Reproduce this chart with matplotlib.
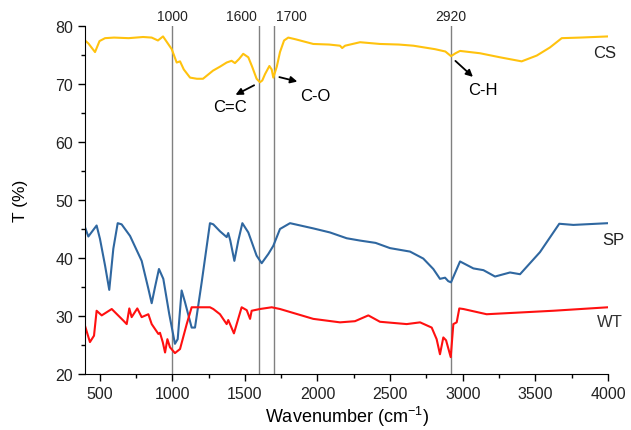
import numpy as np
import matplotlib
matplotlib.use('Agg')
import matplotlib.pyplot as plt
from matplotlib.ticker import MultipleLocator

plt.rcParams['font.family'] = ['Liberation Sans', 'DejaVu Sans']
plt.rcParams['mathtext.default'] = 'regular'

# CS spectrum (yellow)
cs_wn = [400, 423, 469, 500, 538, 600, 700, 800, 859, 902, 937, 997, 1031, 1054, 1080, 1123, 1170, 1212,
         1281, 1330, 1375, 1409, 1432, 1460, 1489, 1524, 1550, 1581, 1604, 1620, 1639, 1669, 1685, 1696, 1720, 1742,
         1770, 1799, 1850, 1971, 2080, 2155, 2170, 2190, 2293, 2430, 2560, 2660, 2809, 2880, 2919, 2950, 2981,
         3118, 3256, 3405, 3509, 3600, 3681, 3807, 4000]
cs_t = [77.5, 77.0, 75.5, 77.4, 77.9, 78.0, 77.9, 78.1, 78.0, 77.5, 78.2, 76.0, 73.7, 73.9, 72.5, 71.1, 70.9, 70.9,
        72.3, 73.0, 73.7, 74.0, 73.6, 74.3, 75.2, 74.6, 73.0, 70.9, 70.3, 70.6, 71.7, 73.1, 72.5, 71.1, 73.0, 75.5,
        77.5, 78.0, 77.7, 76.9, 76.8, 76.6, 76.2, 76.6, 77.2, 76.9, 76.8, 76.6, 76.0, 75.6, 74.8, 75.3, 75.7,
        75.3, 74.6, 73.9, 74.9, 76.3, 77.9, 78.0, 78.2]

# SP spectrum (blue)
sp_wn = [400, 423, 450, 480, 503, 538, 567, 595, 625, 652, 710, 790, 836, 859, 882, 909, 939, 980, 1019, 1038,
         1065, 1088, 1134, 1157, 1203, 1260, 1283, 1329, 1375, 1386, 1400, 1428, 1455, 1483, 1524, 1581, 1616,
         1662, 1696, 1742, 1811, 1971, 2086, 2201, 2293, 2400, 2499, 2637, 2728, 2797, 2843, 2878, 2900, 2919,
         2981, 3073, 3142, 3222, 3325, 3394, 3531, 3664, 3761, 4000]
sp_t = [45.3, 43.7, 44.6, 45.6, 43.3, 38.7, 34.5, 41.6, 46.0, 45.8, 43.8, 39.5, 34.7, 32.2, 35.0, 38.1, 36.4, 30.3,
        25.2, 26.0, 34.4, 32.4, 28.0, 28.0, 35.8, 46.0, 45.8, 44.6, 43.6, 44.3, 43.0, 39.5, 43.0, 46.0, 44.4, 40.4,
        39.1, 40.7, 42.1, 45.0, 46.0, 45.1, 44.4, 43.4, 43.0, 42.6, 41.7, 41.1, 39.9, 38.1, 36.4, 36.6, 36.0, 35.8,
        39.4, 38.2, 37.9, 36.8, 37.5, 37.2, 41.0, 45.9, 45.7, 46.0]

# WT spectrum (red)
wt_wn = [400, 434, 462, 480, 515, 584, 664, 687, 705, 721, 760, 790, 836, 859, 905, 916, 935, 951, 967, 985,
         1019, 1054, 1100, 1134, 1260, 1283, 1329, 1375, 1386, 1425, 1478, 1513, 1536, 1547, 1604, 1685, 1742,
         1971, 2155, 2258, 2350, 2430, 2614, 2706, 2786, 2820, 2843, 2866, 2885, 2917, 2935, 2958, 2976, 3004,
         3164, 3394, 3623, 4000]
wt_t = [28.3, 25.5, 26.6, 30.9, 30.1, 31.2, 29.2, 28.6, 31.3, 29.8, 31.3, 29.8, 30.3, 28.6, 26.9, 27.1, 25.5,
        23.7, 26.0, 24.6, 23.6, 24.3, 28.6, 31.5, 31.5, 31.2, 30.3, 28.6, 29.3, 27.0, 31.5, 31.0, 29.5, 30.9,
        31.2, 31.5, 31.2, 29.5, 28.9, 29.1, 30.1, 29.0, 28.6, 28.9, 28.0, 26.0, 23.4, 26.3, 25.8, 22.9, 28.6,
        28.9, 31.3, 31.2, 30.3, 30.6, 30.9, 31.5]

ref_lines = [1000, 1600, 1700, 2920]
ref_align = ['center', 'right', 'left', 'center']
series_labels = ['CS', 'SP', 'WT']
series_colors = ['#FFC20E', '#2F67A0', '#FF1010']

fig = plt.figure(figsize=(6.31, 4.31), dpi=100)
ax = fig.add_axes([0.1347, 0.13, 0.829, 0.8074])

for xv, ha in zip(ref_lines, ref_align):
    ax.axvline(xv, color='#808080', lw=1.0, zorder=1)
    shift = {'center': 0, 'right': -20, 'left': 14}[ha]
    ax.text(xv + shift, 80.6, str(xv), ha=ha, va='bottom', fontsize=10, color='#222222')

ax.plot(cs_wn, cs_t, color=series_colors[0], lw=1.5, zorder=2)
ax.plot(sp_wn, sp_t, color=series_colors[1], lw=1.5, zorder=2)
ax.plot(wt_wn, wt_t, color=series_colors[2], lw=1.5, zorder=2)

# series labels at the right end
ax.text(3896, 75.5, series_labels[0], fontsize=12, color='#222222', va='center', clip_on=False)
ax.text(3958, 43.1, series_labels[1], fontsize=12, color='#222222', va='center', clip_on=False)
ax.text(3924, 29.1, series_labels[2], fontsize=12, color='#333333', va='center', clip_on=False)

# band annotations
arrow = dict(arrowstyle='-|>', color='black', lw=1.3, mutation_scale=10)
ax.annotate('', xy=(1419, 67.9), xytext=(1581, 70.0), arrowprops=arrow)
ax.text(1400, 66.1, 'C=C', fontsize=12, ha='center', va='center')
ax.annotate('', xy=(1880, 70.3), xytext=(1719, 71.3), arrowprops=arrow)
ax.text(1985, 68.0, 'C-O', fontsize=12, ha='center', va='center')
ax.annotate('', xy=(3084, 70.9), xytext=(2935, 74.3), arrowprops=arrow)
ax.text(3141, 69.1, 'C-H', fontsize=12, ha='center', va='center')

ax.set_xlim(400, 4000)
ax.set_ylim(20, 80)
ax.xaxis.set_major_locator(MultipleLocator(500))
ax.xaxis.set_minor_locator(MultipleLocator(250))
ax.yaxis.set_major_locator(MultipleLocator(10))
ax.yaxis.set_minor_locator(MultipleLocator(5))
ax.tick_params(which='major', direction='out', length=5, width=1, labelsize=11.5, labelcolor='#222222')
ax.tick_params(which='minor', direction='out', length=3, width=1)
ax.spines[['top', 'right']].set_visible(False)
ax.set_xlabel('Wavenumber (cm$^{-1}$)', fontsize=13, labelpad=2)
ax.set_ylabel('T (%)', fontsize=12.5, labelpad=20)

fig.savefig('out.png', dpi=100)
